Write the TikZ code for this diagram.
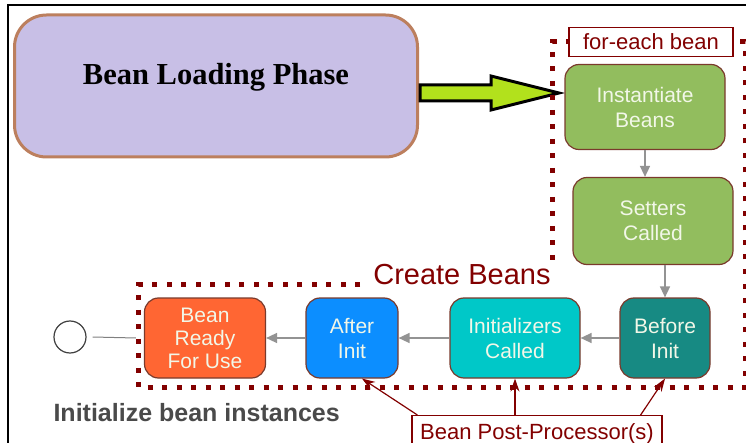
\documentclass[tikz,border=0pt]{standalone}
\usepackage{fontspec}
\setmainfont{Liberation Serif}
\setsansfont{Liberation Sans}
\usetikzlibrary{positioning, arrows.meta, calc}
\definecolor{lilac}{HTML}{C8BFE6}
\definecolor{clay}{HTML}{BC7F5E}
\definecolor{limey}{HTML}{B2E11C}
\definecolor{wine}{HTML}{820000}
\definecolor{rim}{HTML}{7A3A2C}
\definecolor{leaf}{HTML}{92BD5E}
\definecolor{sea}{HTML}{178A83}
\definecolor{aqua}{HTML}{00C8C8}
\definecolor{sky}{HTML}{0C8EFF}
\definecolor{flame}{HTML}{FF6633}
\definecolor{slate}{HTML}{4A4A4A}
\definecolor{pale}{HTML}{F2F7E8}

\begin{document}
\begin{tikzpicture}[x=1pt, y=-1pt,
  stage/.style={draw=rim, line width=1.2pt, rounded corners=14pt, text=pale,
                font=\sffamily\fontsize{21}{25}\selectfont, align=center, inner sep=0pt},
  flow/.style={-{Triangle[length=11pt, width=10pt]}, draw=gray!85, line width=1.5pt},
  hook/.style={-{Stealth[length=13pt, width=9pt]}, draw=wine, line width=1.2pt},
  tag/.style={draw=wine, fill=white, line width=1.2pt, text=wine,
              font=\sffamily\fontsize{22}{26}\selectfont, inner sep=0pt},
  dots/.style={draw=wine, line width=5pt, dash pattern=on 5pt off 9.5pt}]
  \useasboundingbox (0,0) rectangle (746,443);
  % frame
  \draw[line width=2.5pt] (8,443) -- (8,5) -- (746,5);
  % loading phase and the fat arrow
  \node[draw=clay, fill=lilac, line width=3pt, rounded corners=32pt,
        minimum width=403pt, minimum height=142pt] (load) at (216,86) {};
  \node[font=\bfseries\fontsize{30.5}{34}\selectfont] (loadlbl) at (216,77) {Bean Loading Phase};
  \draw[line width=3pt, fill=limey, line join=miter]
    (420,85) -- (491,85) -- (491,76) -- (559,93) -- (491,110) -- (491,101) -- (420,101) -- cycle;
  % dotted regions
  \draw[dots] (360,285) -- (138,285) -- (138,387) -- (745,387) -- (745,42) -- (552,42) -- (552,262);
  \node[text=wine, font=\sffamily\fontsize{29}{32}\selectfont] (create) at (462,275) {Create Beans};
  \node[tag, minimum width=164pt, minimum height=29pt] (each) at (651,42) {for-each bean};
  % stages
  \node[stage, fill=leaf, minimum width=160pt, minimum height=85pt] (inst) at (645,107) {Instantiate\\Beans};
  \node[stage, fill=leaf, minimum width=160pt, minimum height=87pt] (setters) at (653,221) {Setters\\Called};
  \node[stage, fill=sea, minimum width=90pt, minimum height=80pt] (before) at (665,338) {Before\\Init};
  \node[stage, fill=aqua, minimum width=130pt, minimum height=80pt] (initc) at (515,338) {Initializers\\Called};
  \node[stage, fill=sky, minimum width=92pt, minimum height=80pt] (after) at (352,338) {After\\Init};
  \node[stage, fill=flame, minimum width=121pt, minimum height=80pt,
        font=\sffamily\fontsize{21}{23}\selectfont] (ready) at (205,338) {Bean\\Ready\\For Use};
  \draw[flow] (inst.south) -- (inst.south |- setters.north);
  \draw[flow] (before.north |- setters.south) -- (before.north);
  \draw[flow] (before.west) -- (initc.east);
  \draw[flow] (initc.west) -- (after.east);
  \draw[flow] (after.west) -- (ready.east);
  % start point
  \node[circle, draw=black!75, line width=1.2pt, minimum size=32pt, inner sep=0pt] (start) at (70,337) {};
  \draw[gray, line width=1pt] ([xshift=6pt]start.east) -- ([xshift=-8pt]ready.west);
  \node[text=slate, font=\sffamily\bfseries\fontsize{25}{28}\selectfont, anchor=west] (caption) at (50,413) {Initialize bean instances};
  % post-processors
  \node[tag, minimum width=250pt, minimum height=36pt, anchor=north] (pp) at (537,415) {Bean Post-Processor(s)};
  \draw[hook] ([xshift=6pt]pp.north west) -- ([xshift=10pt]after.south);
  \draw[hook] (pp.north -| initc.south) -- (initc.south);
  \draw[hook] ([xshift=-22pt]pp.north east) -- (before.south);
\end{tikzpicture}
\end{document}
